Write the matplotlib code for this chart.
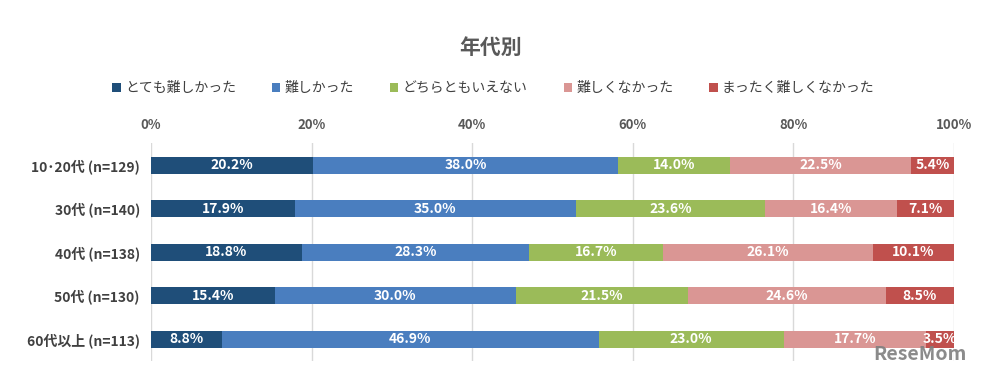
import numpy as np
import matplotlib
matplotlib.use("Agg")
import matplotlib.pyplot as plt

plt.rcParams['font.family'] = ['Noto Sans CJK JP', 'DejaVu Sans']

groups = ["10･20代 (n=129)", "30代 (n=140)", "40代 (n=138)", "50代 (n=130)", "60代以上 (n=113)"]
series = ["とても難しかった", "難しかった", "どちらともいえない", "難しくなかった", "まったく難しくなかった"]
colors = ["#1F4E79", "#4A7EBF", "#9BBB59", "#DA9694", "#C0504D"]
values = np.array([
    [20.2, 38.0, 14.0, 22.5, 5.4],
    [17.9, 35.0, 23.6, 16.4, 7.1],
    [18.8, 28.3, 16.7, 26.1, 10.1],
    [15.4, 30.0, 21.5, 24.6, 8.5],
    [8.8, 46.9, 23.0, 17.7, 3.5],
])
xticks = [0, 20, 40, 60, 80, 100]

shares = values / values.sum(1, keepdims=True) * 100   # 100% stacked

fig = plt.figure(figsize=(9.81, 3.79), dpi=100)
ax = fig.add_axes([0.1539, 0.048, 0.8186, 0.574])
y = np.arange(len(groups))
left = np.zeros(len(groups))
for j, (name, col) in enumerate(zip(series, colors)):
    w = shares[:, j]
    ax.barh(y, w, left=left, height=0.39, color=col, label=name, zorder=2)
    for i in range(len(groups)):
        ax.text(left[i] + w[i] / 2, y[i], f"{values[i, j]:.1f}%", ha="center", va="center",
                color="white", fontsize=10, fontweight="bold", zorder=3)
    left += w

ax.set_xlim(0, 100); ax.set_ylim(len(groups) - 0.5, -0.5)
ax.set_xticks(xticks); ax.set_xticklabels([f"{t}%" for t in xticks])
ax.xaxis.tick_top()
ax.tick_params(axis="x", length=0, pad=8, labelsize=9.5, labelcolor="#595959")
ax.tick_params(axis="y", length=0, pad=8, labelsize=10, labelcolor="#404040")
for lab in ax.get_xticklabels() + ax.get_yticklabels():
    lab.set_fontweight("bold")
ax.set_yticks(y); ax.set_yticklabels(groups)
ax.grid(axis="x", color="#D9D9D9", lw=1, zorder=0)
for s in ax.spines.values():
    s.set_visible(False)

fig.text(0.5, 1 - 47 / 379, "年代別", ha="center", va="center", fontsize=15,
         fontweight="bold", color="#595959")
fig.legend(loc="center", bbox_to_anchor=(0.503, 1 - 88 / 379), ncol=5, frameon=False,
           handlelength=0.6, handleheight=0.6, handletextpad=0.3, columnspacing=2.6,
           prop={"size": 10}, labelcolor="#404040")
fig.text(0.985, 1 - 355 / 379, "ReseMom", ha="right", va="center", fontsize=14,
         fontweight="bold", color="#7F7F7F", alpha=0.9)

fig.savefig("out.png", dpi=100)
